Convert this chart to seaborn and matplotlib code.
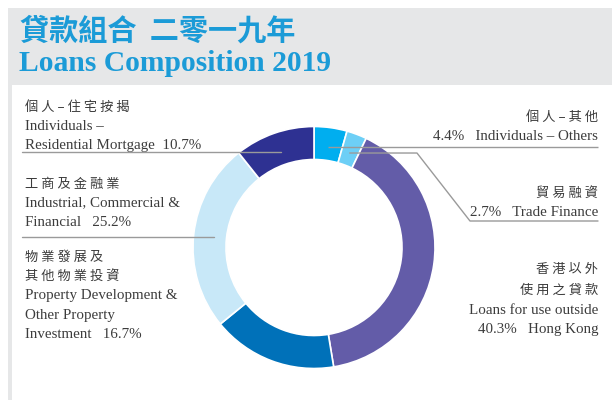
import numpy as np
import matplotlib
matplotlib.use("Agg")
import matplotlib.pyplot as plt
from matplotlib.patches import Rectangle
import seaborn as sns

# ---- data ----
categories = ["Individuals – Others", "Trade Finance", "Loans for use outside Hong Kong",
              "Property Development & Other Property Investment",
              "Industrial, Commercial & Financial", "Individuals – Residential Mortgage"]
values = [4.4, 2.7, 40.3, 16.7, 25.2, 10.7]
hex_colors = ["#00aeef", "#6dcff6", "#635ca8", "#0071b9", "#c8e8f8", "#2e3192"]

title_zh = "貸款組合  二零一九年"
title_en = "Loans Composition 2019"

sns.set_theme(style="white")
plt.rcParams['font.family'] = ['Liberation Serif', 'Noto Sans CJK TC', 'DejaVu Sans']
palette = sns.color_palette(hex_colors)

W, H = 612, 400
fig = plt.figure(figsize=(W / 100, H / 100), dpi=100)
fig.patch.set_facecolor("white")
ax = fig.add_axes([0, 0, 1, 1])
ax.set_xlim(0, W)
ax.set_ylim(0, H)
ax.axis("off")

def Y(py):
    return H - py

# header band and left strip
grey = "#e6e7e8"
ax.add_patch(Rectangle((8, Y(85)), W - 8, 77, facecolor=grey, edgecolor="none", zorder=0))
ax.add_patch(Rectangle((8, 0), 4, Y(85), facecolor=grey, edgecolor="none", zorder=0))

title_col = "#1b9bd7"
ax.text(20, Y(30.5), title_zh, fontsize=21, color=title_col, fontweight="bold",
        family=['Noto Sans CJK TC', 'DejaVu Sans'], ha="left", va="center")
ax.text(19, Y(71), title_en, fontsize=21.3, color=title_col, fontweight="bold",
        family=['Liberation Serif', 'DejaVu Serif'], ha="left", va="baseline")

# donut
cx, cy, R, ring = 314, 247.5, 121, 33
wedges, _ = ax.pie(values, colors=palette, startangle=90, counterclock=False,
                   radius=R, center=(cx, Y(cy)), frame=True,
                   wedgeprops=dict(width=ring, edgecolor="white", linewidth=1.2))
ax.set_xlim(0, W)
ax.set_ylim(0, H)
ax.set_aspect("auto")
ax.axis("off")

# anchor points at wedge midpoints
cum = np.cumsum([0] + values)
mids = (cum[:-1] + cum[1:]) / 2 / sum(values) * 360.0
rm = 101
anchors = [(cx + rm * np.sin(np.radians(t)), Y(cy) + rm * np.cos(np.radians(t))) for t in mids]

lc = "#9a9a9a"
lw = 1.0
# Individuals - Others
a = anchors[0]
ax.plot([a[0], 598], [a[1], a[1]], color=lc, lw=lw, zorder=5, solid_capstyle="butt")
# Trade finance
a = anchors[1]
ax.plot([a[0], 417, 470, 598], [a[1], a[1], Y(221), Y(221)], color=lc, lw=lw, zorder=5)
# Industrial
a = anchors[4]
ax.plot([22, a[0]], [a[1], a[1]], color=lc, lw=lw, zorder=5)
# Residential
a = anchors[5]
ax.plot([22, a[0]], [a[1], a[1]], color=lc, lw=lw, zorder=5)

tc = "#3c3c3c"
zh_font = ['Noto Sans CJK TC', 'DejaVu Sans']
en_font = ['Liberation Serif', 'Noto Sans CJK TC']

def spaced(s):
    return " ".join(s)

def zh(x, py, s, ha="left"):
    ax.text(x, Y(py), spaced(s), fontsize=9.5, color=tc, family=zh_font, ha=ha, va="center")

def en(x, py, s, ha="left"):
    ax.text(x, Y(py), s, fontsize=10.8, color=tc, family=en_font, ha=ha, va="center")

# left labels
lx = 25
zh(lx, 107, "個人–住宅按揭")
en(lx, 126, "Individuals –")
en(lx, 145, "Residential Mortgage  10.7%")

zh(lx, 184, "工商及金融業")
en(lx, 203, "Industrial, Commercial &")
en(lx, 222, "Financial   25.2%")

zh(lx, 257, "物業發展及")
zh(lx, 276, "其他物業投資")
en(lx, 296, "Property Development &")
en(lx, 315, "Other Property")
en(lx, 334, "Investment   16.7%")

# right labels
rx = 598
zh(rx, 117, "個人–其他", ha="right")
en(rx, 137, "4.4%   Individuals – Others", ha="right")
zh(rx, 193, "貿易融資", ha="right")
en(rx, 212, "2.7%   Trade Finance", ha="right")
zh(rx, 270, "香港以外", ha="right")
zh(rx, 290, "使用之貸款", ha="right")
en(rx, 310, "Loans for use outside", ha="right")
en(rx, 329, "40.3%   Hong Kong", ha="right")

fig.savefig("out.png", dpi=100, facecolor="white")
